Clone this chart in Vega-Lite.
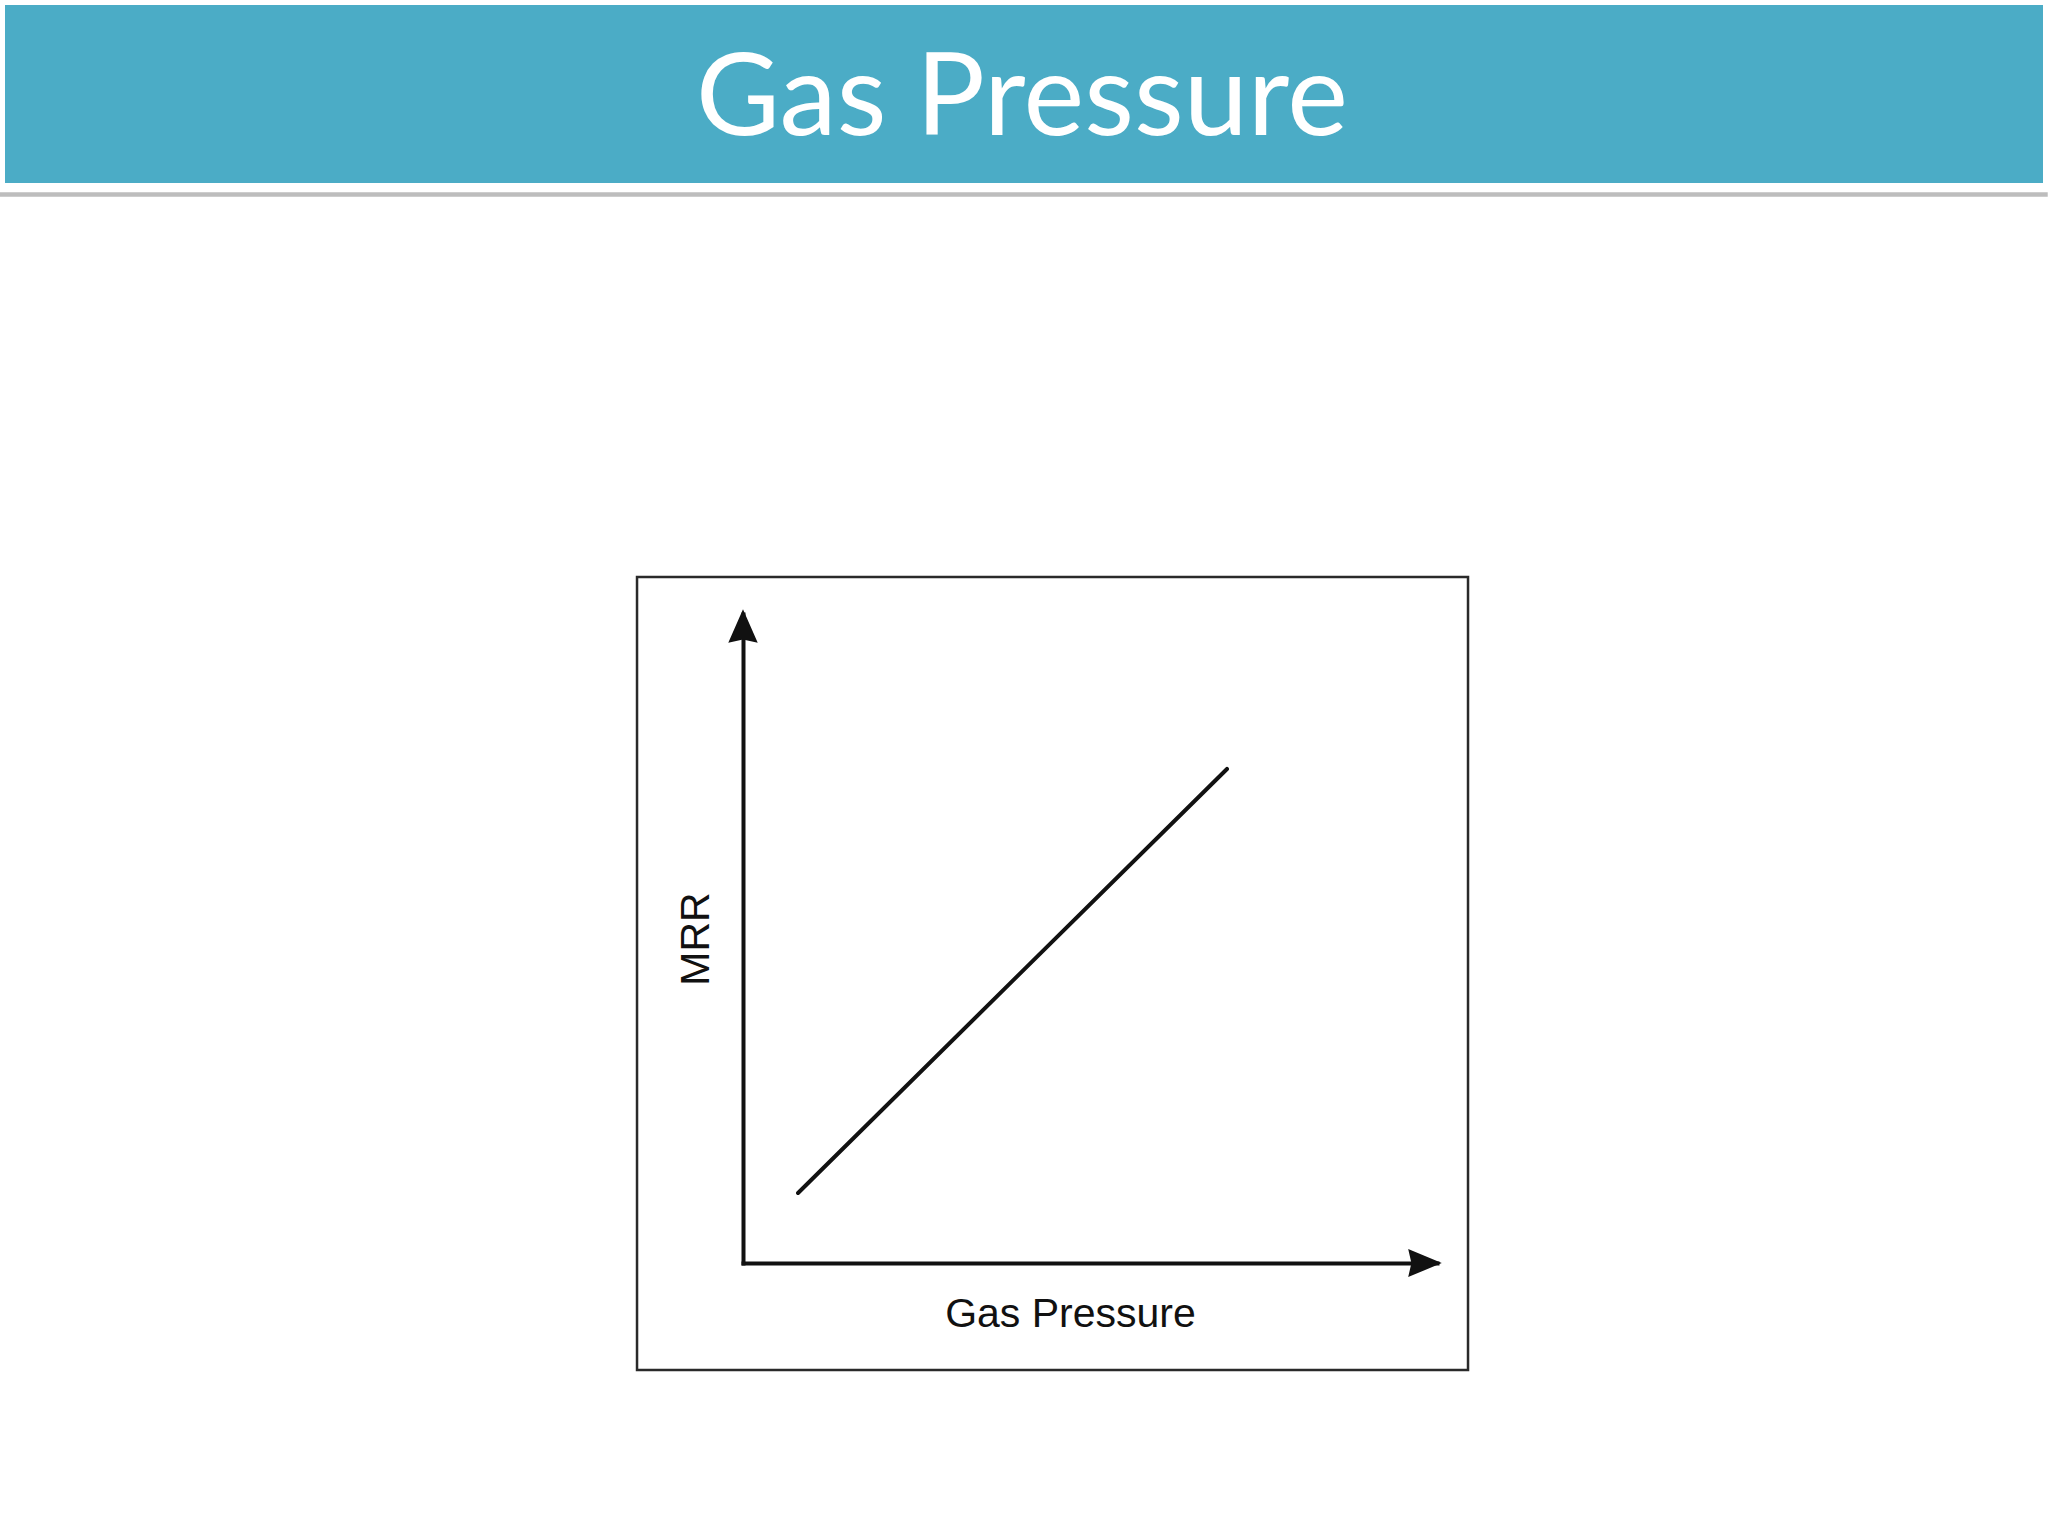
{
  "$schema": "https://vega.github.io/schema/vega-lite/v6.json",
  "description": "Slide: MRR rises linearly with gas pressure.",
  "width": 694,
  "height": 649,
  "autosize": {"type": "none"},
  "padding": {"left": 743, "top": 614, "right": 611, "bottom": 273},
  "background": "#ffffff",
  "datasets": {
    "banner": [{"x": -106.34, "x2": 187.32, "y": 193.84, "y2": 166.41}],
    "shadow": [{"x": -107.06, "x2": 188.0, "y": 165.0, "y2": 164.3}],
    "frame": [{"x": -15.27, "x2": 104.47, "y": 105.7, "y2": -16.49}],
    "heading": [{"x": 40.2, "y": 173.8, "label": "Gas Pressure"}],
    "mrr": [
      {"pressure": 7.93, "mrr": 10.79},
      {"pressure": 69.74, "mrr": 76.12}
    ],
    "yTip": [{"x": 0, "y": 100}],
    "xTip": [{"x": 100, "y": 0}]
  },
  "layer": [
    {
      "data": {"name": "banner"},
      "mark": {"type": "rect", "fill": "#4BACC6", "clip": false},
      "encoding": {
        "x": {
          "field": "x",
          "type": "quantitative",
          "scale": {"domain": [0, 100], "nice": false, "zero": false},
          "axis": {
            "title": "Gas Pressure",
            "domain": true,
            "domainColor": "#111111",
            "domainWidth": 4,
            "domainCap": "square",
            "ticks": false,
            "labels": false,
            "grid": false,
            "titleFont": "Liberation Sans",
            "titleFontSize": 41,
            "titleFontWeight": "normal",
            "titleColor": "#111111",
            "titlePadding": 31,
            "titleX": 327
          }
        },
        "x2": {"field": "x2"},
        "y": {
          "field": "y",
          "type": "quantitative",
          "scale": {"domain": [0, 100], "nice": false, "zero": false},
          "axis": {
            "title": "MRR",
            "domain": true,
            "domainColor": "#111111",
            "domainWidth": 4,
            "domainCap": "square",
            "ticks": false,
            "labels": false,
            "grid": false,
            "titleFont": "Liberation Sans",
            "titleFontSize": 41,
            "titleFontWeight": "normal",
            "titleColor": "#111111",
            "titlePadding": 26
          }
        },
        "y2": {"field": "y2"}
      }
    },
    {
      "data": {"name": "shadow"},
      "mark": {"type": "rect", "fill": "#bdbdbd", "clip": false},
      "encoding": {
        "x": {"field": "x", "type": "quantitative"},
        "x2": {"field": "x2"},
        "y": {"field": "y", "type": "quantitative"},
        "y2": {"field": "y2"}
      }
    },
    {
      "data": {"name": "heading"},
      "mark": {
        "type": "text",
        "font": "Lato",
        "fontSize": 115,
        "color": "#ffffff",
        "align": "center",
        "baseline": "alphabetic",
        "clip": false
      },
      "encoding": {
        "x": {"field": "x", "type": "quantitative"},
        "y": {"field": "y", "type": "quantitative"},
        "text": {"field": "label"}
      }
    },
    {
      "data": {"name": "frame"},
      "mark": {"type": "rect", "fill": null, "stroke": "#2a2a2a", "strokeWidth": 2.5, "clip": false},
      "encoding": {
        "x": {"field": "x", "type": "quantitative"},
        "x2": {"field": "x2"},
        "y": {"field": "y", "type": "quantitative"},
        "y2": {"field": "y2"}
      }
    },
    {
      "data": {"name": "mrr"},
      "mark": {"type": "line", "color": "#111111", "strokeWidth": 4, "strokeCap": "round", "clip": false},
      "encoding": {
        "x": {"field": "pressure", "type": "quantitative"},
        "y": {"field": "mrr", "type": "quantitative"}
      }
    },
    {
      "data": {"name": "yTip"},
      "mark": {
        "type": "point",
        "shape": "M0,-0.15L-0.46,0.9L0,0.8L0.46,0.9Z",
        "size": 4096,
        "filled": true,
        "opacity": 1,
        "color": "#111111",
        "clip": false
      },
      "encoding": {
        "x": {"field": "x", "type": "quantitative"},
        "y": {"field": "y", "type": "quantitative"}
      }
    },
    {
      "data": {"name": "xTip"},
      "mark": {
        "type": "point",
        "shape": "M0.15,0L-0.9,-0.44L-0.8,0L-0.9,0.44Z",
        "size": 4096,
        "filled": true,
        "opacity": 1,
        "color": "#111111",
        "clip": false
      },
      "encoding": {
        "x": {"field": "x", "type": "quantitative"},
        "y": {"field": "y", "type": "quantitative"}
      }
    }
  ],
  "config": {
    "view": {"stroke": null}
  }
}
